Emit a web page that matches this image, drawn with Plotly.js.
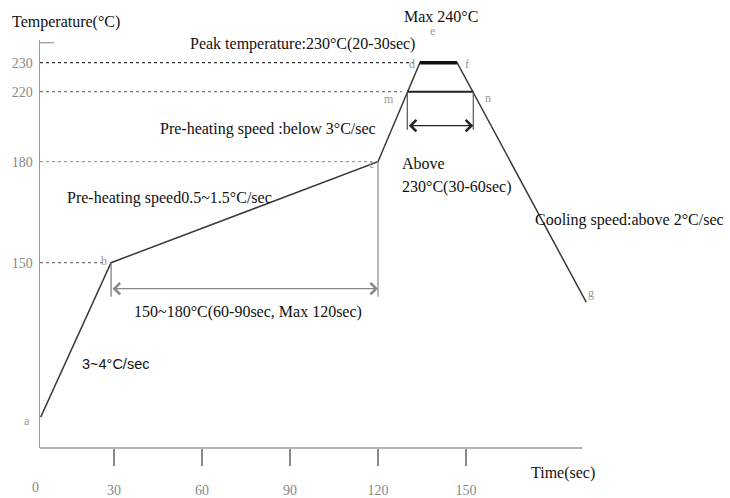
<!DOCTYPE html>
<html><head><meta charset="utf-8">
<script src="https://cdn.plot.ly/plotly-3.0.1.min.js"></script>
<style>html,body{margin:0;padding:0;background:#fff}</style>
</head><body><div id="chart" style="width:730px;height:498px"></div>
<script>
// ---- data (time in sec, temperature in °C) ----
const pointLabels = ['a', 'b', 'c', 'd', 'f', 'g'];
const profileTime = [5, 29, 120, 134.3, 147, 191];
const profileTemp = [25, 150, 180, 230, 230, 118];
const peakTime = [134.3, 147];
const peakTemp = [230, 230];
const aboveTime = [130, 152.5];   // m, n
const aboveTemp = [220, 220];
const yTickTemps = [150, 180, 220, 230];
const yTickText = ['150', '180', '220', '230'];
const xTickVals = [30, 60, 90, 120, 150];
const xTickText = ['30', '60', '90', '120', '150'];

// ---- the schematic's non-uniform temperature axis (piecewise scale) ----
const scaleTemps = [0, 150, 180, 220, 230, 250];
const scaleLevels = [0, 185.3, 286.3, 356.3, 385.3, 443.3];
function warp(t) {
  for (let i = 0; i < scaleTemps.length - 1; i++) {
    if (t <= scaleTemps[i + 1] || i === scaleTemps.length - 2) {
      const f = (t - scaleTemps[i]) / (scaleTemps[i + 1] - scaleTemps[i]);
      return scaleLevels[i] + f * (scaleLevels[i + 1] - scaleLevels[i]);
    }
  }
}
const W = a => a.map(warp);

const X0 = 4.77, X1 = 195.7;
const L = 40, T = 40, PW = 560, PH = 408;
function P(px, py) { return {xref: 'paper', yref: 'paper', x: (px - L) / PW, y: (T + PH - py) / PH}; }

const serif = 'Liberation Serif, Times New Roman, serif';
const traces = [];
function line(x, y, color, width, dash) {
  traces.push({x: x, y: W(y), type: 'scatter', mode: 'lines', hoverinfo: 'skip', showlegend: false,
    line: {color: color, width: width, dash: dash || 'solid'}});
}
// dotted guide lines from the axis to b, c, m, d
line([X0, profileTime[3] - 2], [230, 230], '#333', 1.3, 'dot');
line([X0, aboveTime[0] - 2], [220, 220], '#555', 1, 'dot');
line([X0, profileTime[2] - 2], [180, 180], '#888', 1, 'dot');
line([X0, profileTime[1] - 2], [150, 150], '#555', 1, 'dot');
// profile
line(profileTime, profileTemp, '#3a3a3a', 1.5);
line(peakTime, peakTemp, '#111', 3.5);
line(aboveTime, aboveTemp, '#222', 2);
// range bars
const barLowPre = 122.5, barLowPeak = 198.3;
line([profileTime[1], profileTime[1]], [profileTemp[1], barLowPre], '#777', 1.2);
line([profileTime[2], profileTime[2]], [profileTemp[2], barLowPre], '#888', 1.2);
line([aboveTime[0], aboveTime[0]], [aboveTemp[0], barLowPeak], '#555', 1.2);
line([aboveTime[1], aboveTime[1]], [aboveTemp[1], barLowPeak], '#555', 1.2);

const ann = [];
function txt(px, py, text, opts) {
  opts = opts || {};
  ann.push(Object.assign(P(px, py), {text: text, showarrow: false,
    xanchor: opts.xanchor || 'left', yanchor: 'middle',
    font: {family: opts.family || serif, size: opts.size || 16, color: opts.color || '#111'}}));
}
txt(10, 22, 'Temperature(°C)');
txt(441, 17, 'Max 240°C', {xanchor: 'center'});
txt(188, 44, 'Peak temperature:230°C(20-30sec)');
txt(158, 129, 'Pre-heating speed :below 3°C/sec');
txt(65, 198, 'Pre-heating speed0.5~1.5°C/sec');
txt(400, 163, 'Above');
txt(400, 187, '230°C(30-60sec)');
txt(533, 220, 'Cooling speed:above 2°C/sec');
txt(132, 312, '150~180°C(60-90sec, Max 120sec)');
txt(80, 364, '3~4°C/sec', {family: 'Liberation Sans, Arial, sans-serif', size: 14.5});
txt(529, 473, 'Time(sec)');
txt(35, 487, '0', {xanchor: 'center', size: 14, color: '#888'});
// point letters
const g = '#999';
txt(27, 421, 'a', {xanchor: 'center', size: 12, color: g});
txt(104, 261, 'b', {xanchor: 'center', size: 12, color: g});
txt(371, 164, 'c', {xanchor: 'center', size: 12, color: g});
txt(412, 64, 'd', {xanchor: 'center', size: 12, color: g});
txt(432, 31, 'e', {xanchor: 'center', size: 12, color: g});
txt(467, 64, 'f', {xanchor: 'center', size: 12, color: g});
txt(389, 99, 'm', {xanchor: 'center', size: 12, color: g});
txt(488, 98, 'n', {xanchor: 'center', size: 12, color: g});
txt(591, 293, 'g', {xanchor: 'center', size: 12, color: g});

// double-headed range arrows
const arrowPre = 129, arrowPeak = 200.6;
ann.push({xref: 'x', yref: 'y', axref: 'x', ayref: 'y', x: profileTime[2], y: warp(arrowPre),
  ax: profileTime[1], ay: warp(arrowPre), text: '', showarrow: true, arrowside: 'end+start',
  arrowhead: 4, arrowsize: 1.6, arrowwidth: 1.4, arrowcolor: '#888', standoff: 0, startstandoff: 0});
ann.push({xref: 'x', yref: 'y', axref: 'x', ayref: 'y', x: aboveTime[1], y: warp(arrowPeak),
  ax: aboveTime[0], ay: warp(arrowPeak), text: '', showarrow: true, arrowside: 'end+start',
  arrowhead: 4, arrowsize: 1.6, arrowwidth: 1.4, arrowcolor: '#222', standoff: 0, startstandoff: 0});

const layout = {
  width: 730, height: 498,
  margin: {l: L, r: 730 - L - PW, t: T, b: 498 - T - PH, pad: 0},
  paper_bgcolor: '#fff', plot_bgcolor: '#fff',
  xaxis: {range: [X0, X1], showgrid: false, zeroline: false, showline: false,
    tickvals: xTickVals, ticktext: xTickText, ticks: 'outside', ticklen: 17, tickwidth: 1.5,
    tickcolor: '#888', ticklabelstandoff: 12,
    tickfont: {family: serif, size: 14, color: '#888'}},
  yaxis: {range: [0, PH], showgrid: false, zeroline: false, showline: true, linecolor: '#999', linewidth: 1.5,
    tickvals: W(yTickTemps), ticktext: yTickText, ticks: '', ticklabelstandoff: 3,
    tickfont: {family: serif, size: 14, color: '#888'}},
  shapes: [
    {type: 'line', xref: 'paper', yref: 'paper', x0: 0, x1: (582 - L) / PW, y0: 0, y1: 0,
      line: {color: '#999', width: 1.5}},
    {type: 'line', xref: 'paper', yref: 'paper', x0: 0, x1: 14 / PW, y0: (T + PH - 42.7) / PH, y1: (T + PH - 42.7) / PH,
      line: {color: '#999', width: 1.2}}
  ],
  annotations: ann
};
Plotly.newPlot('chart', traces, layout, {displayModeBar: false, staticPlot: true});
</script></body></html>
